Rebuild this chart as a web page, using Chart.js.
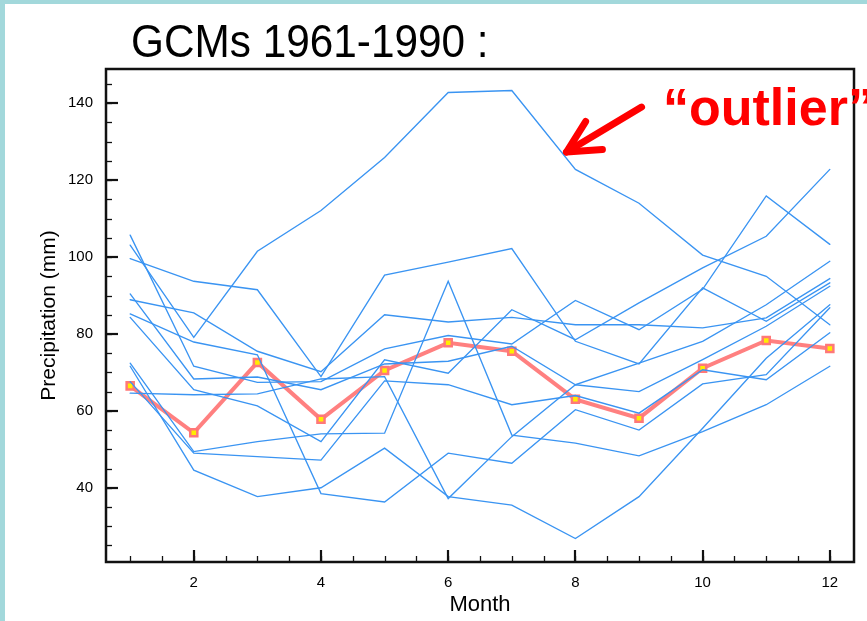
<!DOCTYPE html>
<html><head><meta charset="utf-8">
<script src="https://cdn.jsdelivr.net/npm/chart.js@4.4.1/dist/chart.umd.min.js"></script>
<style>
html,body{margin:0;padding:0;background:#fff;overflow:hidden}
#wrap{position:relative;width:867px;height:621px;background:#fff}
#c{position:absolute;left:0;top:0}
.bar{position:absolute;background:#a2d8db}
</style></head><body>
<div id="wrap">
<canvas id="c" width="867" height="621"></canvas>
<div class="bar" style="left:0;top:0;width:5px;height:621px"></div>
<div class="bar" style="left:0;top:0;width:867px;height:4px"></div>
</div>
<script>
// ---- data ----
const months = [1,2,3,4,5,6,7,8,9,10,11,12];
const gcmO = [103.1, 79.1, 101.5, 112.1, 125.9, 142.8, 143.3, 122.8, 114.0, 100.5, 95.0, 82.4];
const gcmC = [99.6, 93.7, 91.5, 68.9, 95.3, 98.7, 102.2, 78.1, 72.2, 92.0, 83.3, 93.3];
const gcmA = [105.7, 71.6, 67.4, 67.6, 76.1, 79.6, 77.4, 88.7, 81.1, 91.6, 115.9, 103.3];
const gcmP = [88.9, 85.5, 75.5, 70.2, 85.0, 83.1, 84.3, 82.4, 82.4, 81.6, 84.2, 94.4];
const gcmD = [90.4, 68.3, 68.8, 65.5, 72.2, 72.9, 76.8, 66.8, 72.4, 78.1, 87.6, 98.9];
const gcmF = [85.2, 77.9, 74.6, 38.5, 36.3, 49.0, 46.4, 60.3, 55.0, 67.0, 69.4, 86.8];
const gcmG = [84.3, 65.5, 61.3, 52.0, 73.3, 69.8, 86.3, 78.5, 88.1, 97.2, 105.4, 122.8];
const gcmQ = [72.4, 49.4, 52.0, 54.0, 54.2, 93.7, 53.7, 51.6, 48.3, 54.6, 61.6, 71.6];
const gcmW = [71.6, 44.6, 37.7, 40.0, 50.3, 37.7, 35.5, 26.8, 37.7, 55.5, 73.7, 87.6];
const gcmV = [67.6, 49.0, 48.1, 47.2, 67.8, 66.8, 61.6, 64.0, 59.4, 70.7, 68.1, 80.3];
const gcmJ = [64.6, 64.2, 64.4, 68.3, 68.9, 37.2, 53.3, 66.8, 65.0, 73.3, 82.0, 92.4];
const observed = [66.5, 54.3, 72.6, 57.8, 70.5, 77.7, 75.5, 63.0, 58.1, 71.1, 78.3, 76.2];
const xTickVals = [2, 4, 6, 8, 10, 12];
const yTickVals = [40, 60, 80, 100, 120, 140];
const titleText = 'GCMs 1961-1990 :';
const noteText = '\u201Coutlier\u201D';
const xTitle = 'Month';
const yTitle = 'Precipitation (mm)';

const gcms = [gcmO, gcmC, gcmA, gcmP, gcmD, gcmF, gcmG, gcmQ, gcmW, gcmV, gcmJ];
const toPts = arr => arr.map((v, i) => ({x: months[i], y: v}));
const FONT = '"Liberation Sans", Arial, Helvetica, sans-serif';

const datasets = gcms.map(arr => ({
  data: toPts(arr), borderColor: 'rgb(58,148,242)', borderWidth: 1.35,
  pointRadius: 0, tension: 0, fill: false
}));
datasets.push({
  data: toPts(observed), borderColor: 'rgba(255,110,110,0.88)', borderWidth: 4,
  pointStyle: 'rect', pointRadius: 5, pointBorderWidth: 2.5,
  pointBackgroundColor: '#ffee00', pointBorderColor: 'rgba(255,120,120,1)',
  tension: 0, fill: false
});

const framePlugin = {
  id: 'frame',
  afterDraw(chart) {
    const {ctx, chartArea: a, scales: {x, y}} = chart;
    ctx.save();
    ctx.strokeStyle = '#111';
    ctx.lineWidth = 1.3;
    for (let v = 1; v <= 12.001; v += 0.5) {
      const px = Math.round(x.getPixelForValue(v)) + 0.5;
      ctx.beginPath(); ctx.moveTo(px, a.bottom); ctx.lineTo(px, a.bottom - 6); ctx.stroke();
    }
    for (let v = 25; v <= 145.001; v += 5) {
      const py = Math.round(y.getPixelForValue(v)) + 0.5;
      ctx.beginPath(); ctx.moveTo(a.left, py); ctx.lineTo(a.left + 6, py); ctx.stroke();
    }
    ctx.lineWidth = 2.2;
    xTickVals.forEach(v => {
      const px = Math.round(x.getPixelForValue(v));
      ctx.beginPath(); ctx.moveTo(px, a.bottom); ctx.lineTo(px, a.bottom - 12); ctx.stroke();
    });
    yTickVals.forEach(v => {
      const py = Math.round(y.getPixelForValue(v));
      ctx.beginPath(); ctx.moveTo(a.left, py); ctx.lineTo(a.left + 12, py); ctx.stroke();
    });
    ctx.lineWidth = 2.5;
    ctx.strokeRect(a.left, a.top, a.right - a.left, a.bottom - a.top);
    ctx.restore();

    // title (slightly condensed, like the original)
    ctx.save();
    ctx.fillStyle = '#000';
    ctx.font = '46px ' + FONT;
    ctx.textBaseline = 'alphabetic';
    ctx.translate(131, 57);
    ctx.scale(0.92, 1);
    ctx.fillText(titleText, 0, 0);
    ctx.restore();

    // annotation arrow + label
    ctx.save();
    const tipX = x.getPixelForValue(7.86), tipY = y.getPixelForValue(127.3);
    const tailX = x.getPixelForValue(9.04), tailY = y.getPixelForValue(139.0);
    const ang = Math.atan2(tailY - tipY, tailX - tipX);
    const bl = 36, spread = 27 * Math.PI / 180;
    ctx.strokeStyle = '#ff0000';
    ctx.lineWidth = 7; ctx.lineCap = 'round'; ctx.lineJoin = 'round';
    ctx.beginPath(); ctx.moveTo(tailX, tailY); ctx.lineTo(tipX, tipY); ctx.stroke();
    ctx.beginPath();
    ctx.moveTo(tipX + bl * Math.cos(ang - spread), tipY + bl * Math.sin(ang - spread));
    ctx.lineTo(tipX, tipY);
    ctx.lineTo(tipX + bl * Math.cos(ang + spread), tipY + bl * Math.sin(ang + spread));
    ctx.stroke();
    ctx.fillStyle = '#ff0000';
    ctx.font = 'bold 52px ' + FONT;
    ctx.textBaseline = 'alphabetic';
    ctx.fillText(noteText, 663, 125);
    ctx.restore();
  }
};

new Chart(document.getElementById('c'), {
  type: 'line',
  data: {datasets},
  plugins: [framePlugin],
  options: {
    responsive: false, animation: false, devicePixelRatio: 1,
    layout: {padding: {left: 0, top: 69, right: 13, bottom: 0}},
    plugins: {legend: {display: false}, tooltip: {enabled: false}, title: {display: false}},
    elements: {line: {borderCapStyle: 'round', borderJoinStyle: 'miter'}},
    scales: {
      x: {
        type: 'linear', min: 0.62, max: 12.38,
        afterBuildTicks: s => { s.ticks = xTickVals.map(v => ({value: v})); },
        afterFit: s => { s.height = 59; },
        grid: {display: false, drawTicks: false},
        border: {display: false},
        ticks: {padding: 12, color: '#000', font: {family: FONT, size: 15}},
        title: {display: true, text: xTitle, color: '#000', font: {family: FONT, size: 22}, padding: {top: 0, bottom: 3}}
      },
      y: {
        type: 'linear', min: 20.7, max: 148.9,
        afterBuildTicks: s => { s.ticks = yTickVals.map(v => ({value: v})); },
        afterFit: s => { s.width = 106; },
        grid: {display: false, drawTicks: false},
        border: {display: false},
        ticks: {padding: 13, color: '#000', font: {family: FONT, size: 15}},
        title: {display: true, text: yTitle, color: '#000', font: {family: FONT, size: 21}, padding: {top: 37, bottom: 0}}
      }
    }
  }
});
</script>
</body></html>
